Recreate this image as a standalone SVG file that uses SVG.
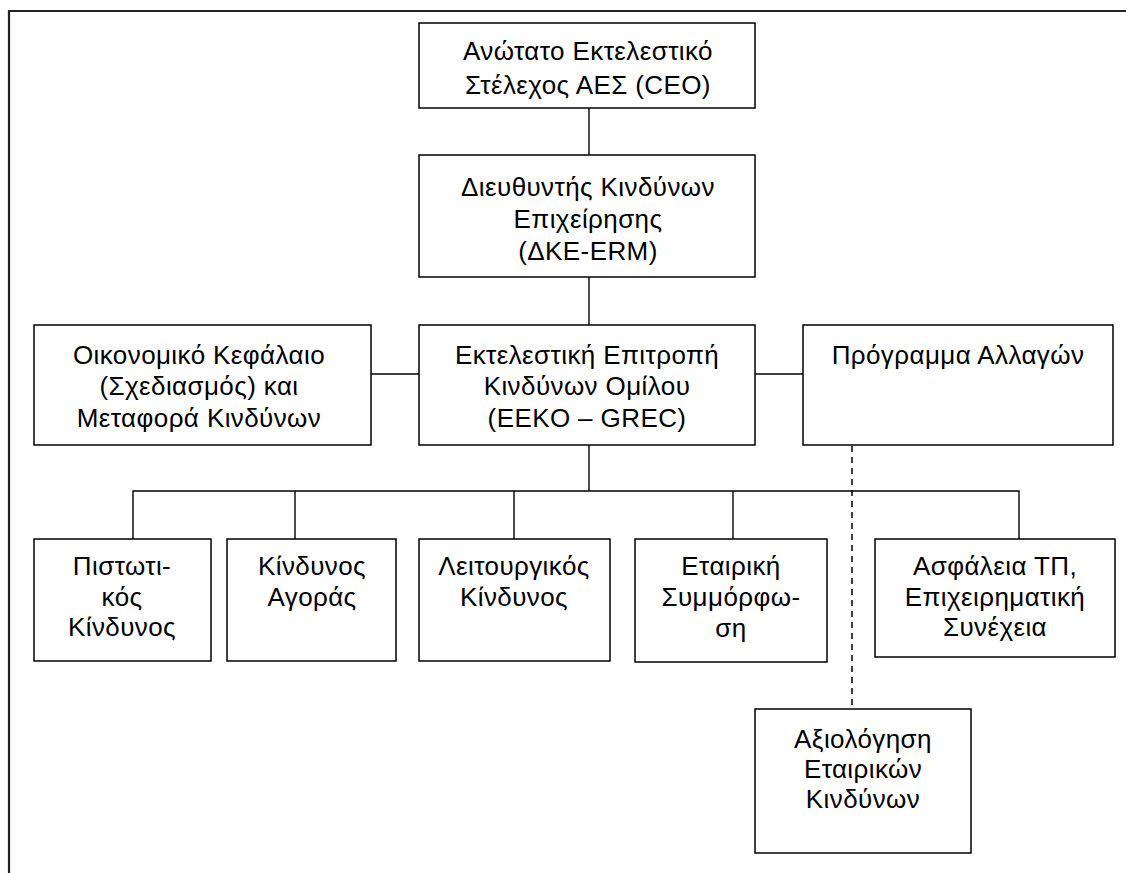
<svg xmlns="http://www.w3.org/2000/svg" width="1126" height="873" viewBox="0 0 1126 873">
  <style>
    .box { fill: #fff; stroke: #000; stroke-width: 1.5; }
    .lbl { font-family: "Liberation Sans", Arial, sans-serif; font-size: 26px; letter-spacing: 0.4px; fill: #000; text-anchor: middle; }
    .link { stroke: #000; stroke-width: 1.4; fill: none; }
    .dash { stroke: #000; stroke-width: 1.5; fill: none; stroke-dasharray: 6 5; }
    .frame { stroke: #222; stroke-width: 2.2; fill: none; }
  </style>
  <rect width="1126" height="873" fill="#fff"/>

  <!-- page frame (top and left edges only) -->
  <path class="frame" d="M9 873 V11 H1126"/>

  <!-- connectors -->
  <g id="connectors">
    <line class="link" x1="589" y1="108" x2="589" y2="155"/>
    <line class="link" x1="589" y1="277" x2="589" y2="325"/>
    <line class="link" x1="371" y1="374" x2="419" y2="374"/>
    <line class="link" x1="755" y1="374" x2="803" y2="374"/>
    <line class="link" x1="589" y1="445" x2="589" y2="491"/>
    <path class="link" d="M133 539 V491 H1019 V539"/>
    <line class="link" x1="295" y1="491" x2="295" y2="539"/>
    <line class="link" x1="514" y1="491" x2="514" y2="539"/>
    <line class="link" x1="733" y1="491" x2="733" y2="539"/>
    <line class="dash" x1="852" y1="446" x2="852" y2="709"/>
  </g>

  <g id="ceo">
    <rect class="box" x="419" y="23" width="336" height="85"/>
    <text class="lbl" x="588" y="60">Ανώτατο Εκτελεστικό</text>
    <text class="lbl" x="588" y="94">Στέλεχος ΑΕΣ (CEO)</text>
  </g>

  <g id="erm">
    <rect class="box" x="419" y="155" width="336" height="122"/>
    <text class="lbl" x="588" y="196">Διευθυντής Κινδύνων</text>
    <text class="lbl" x="588" y="228">Επιχείρησης</text>
    <text class="lbl" x="588" y="260">(ΔΚΕ-ERM)</text>
  </g>

  <g id="capital">
    <rect class="box" x="34" y="325" width="337" height="120"/>
    <text class="lbl" x="199" y="364">Οικονομικό Κεφάλαιο</text>
    <text class="lbl" x="199" y="395">(Σχεδιασμός) και</text>
    <text class="lbl" x="199" y="427">Μεταφορά Κινδύνων</text>
  </g>

  <g id="grec">
    <rect class="box" x="419" y="325" width="336" height="120"/>
    <text class="lbl" x="587" y="364">Εκτελεστική Επιτροπή</text>
    <text class="lbl" x="587" y="395">Κινδύνων Ομίλου</text>
    <text class="lbl" x="587" y="427">(EEKO – GREC)</text>
  </g>

  <g id="change">
    <rect class="box" x="803" y="325" width="310" height="120"/>
    <text class="lbl" x="958" y="364">Πρόγραμμα Αλλαγών</text>
  </g>

  <g id="credit">
    <rect class="box" x="34" y="539" width="177" height="122"/>
    <text class="lbl" x="122" y="575">Πιστωτι-</text>
    <text class="lbl" x="122" y="606">κός</text>
    <text class="lbl" x="122" y="636">Κίνδυνος</text>
  </g>

  <g id="market">
    <rect class="box" x="227" y="539" width="169" height="122"/>
    <text class="lbl" x="312" y="575">Κίνδυνος</text>
    <text class="lbl" x="312" y="606">Αγοράς</text>
  </g>

  <g id="operational">
    <rect class="box" x="419" y="539" width="191" height="122"/>
    <text class="lbl" x="514" y="575">Λειτουργικός</text>
    <text class="lbl" x="514" y="606">Κίνδυνος</text>
  </g>

  <g id="compliance">
    <rect class="box" x="635" y="539" width="192" height="123"/>
    <text class="lbl" x="731" y="575">Εταιρική</text>
    <text class="lbl" x="731" y="606">Συμμόρφω-</text>
    <text class="lbl" x="731" y="637">ση</text>
  </g>

  <g id="continuity">
    <rect class="box" x="875" y="539" width="240" height="118"/>
    <text class="lbl" x="995" y="575">Ασφάλεια ΤΠ,</text>
    <text class="lbl" x="995" y="606">Επιχειρηματική</text>
    <text class="lbl" x="995" y="636">Συνέχεια</text>
  </g>

  <g id="assessment">
    <rect class="box" x="755" y="709" width="216" height="144"/>
    <text class="lbl" x="863" y="748">Αξιολόγηση</text>
    <text class="lbl" x="863" y="778">Εταιρικών</text>
    <text class="lbl" x="863" y="808">Κινδύνων</text>
  </g>
</svg>
